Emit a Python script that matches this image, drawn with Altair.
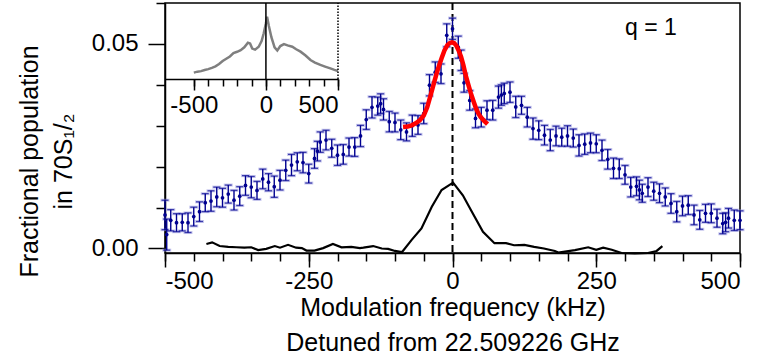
import altair as alt
import pandas as pd

# ---------------- data ----------------
freq_khz = [
    -500, -497, -490, -480, -470, -460, -450, -440, -430, -420, -410,
    -400, -390, -380, -370, -360, -350, -340, -330, -320, -310,
    -300, -290, -280, -270, -260, -250, -240, -235, -230, -220, -210,
    -200, -190, -180, -170, -160, -150, -140, -130, -125, -120, -110,
    -100, -90, -80, -70, -60, -50, -40, -30, -20, -10,
    0, 10, 15, 20, 30, 40, 50, 60, 70, 80, 85, 90,
    100, 110, 120, 130, 140, 150, 160, 170, 180, 190,
    200, 210, 220, 230, 240, 250, 260, 270, 280, 290,
    300, 310, 320, 325, 330, 340, 350, 360, 370, 380, 390,
    400, 410, 420, 430, 440, 450, 460, 470, 475, 480, 490, 500,
]
pop_milli = [
    8.2, 3.4, 6.9, 6.3, 6.4, 6.3, 7.8, 9.0, 11.2, 11.6, 12.6,
    12.4, 13.3, 11.8, 12.8, 15.4, 15.0, 14.2, 17.0, 16.2, 15.1,
    16.7, 19.1, 20.4, 21.2, 21.0, 18.3, 22.0, 23.8, 26.0, 26.5, 24.5,
    22.8, 23.0, 24.8, 24.8, 27.5, 31.5, 34.5, 34.8, 35.4, 34.0, 31.0,
    30.8, 29.0, 28.5, 30.0, 30.2, 33.0, 39.9, 43.1, 42.7, 52.1,
    53.7, 49.2, 46.0, 40.5, 36.2, 31.8, 32.1, 33.8, 33.8, 37.0, 37.5, 37.9,
    38.2, 34.6, 35.0, 32.1, 29.3, 28.9, 27.7, 26.5, 27.5, 27.2,
    27.5, 27.0, 25.2, 25.5, 25.8, 25.6, 24.0, 21.8, 19.6, 19.5,
    18.0, 15.0, 15.2, 14.3, 13.5, 15.0, 14.0, 13.5, 12.6, 11.0, 9.0,
    10.4, 10.6, 8.2, 7.0, 8.6, 8.6, 7.4, 6.1, 6.4, 7.4, 6.9, 6.9,
]
err_milli = [
    3.6, 3.8, 2.6, 2.2, 2.1, 2.4, 2.3, 2.4, 2.2, 2.5, 2.4,
    2.3, 2.2, 2.4, 2.3, 2.4, 2.6, 2.2, 2.4, 2.1, 2.6,
    2.4, 2.5, 2.6, 2.2, 2.5, 2.3, 2.4, 2.4, 2.5, 2.4, 2.2,
    2.5, 2.4, 2.2, 2.3, 2.6, 2.4, 2.6, 2.2, 2.4, 2.6, 2.5,
    2.3, 2.4, 2.2, 2.6, 2.3, 2.5, 2.6, 2.5, 2.4, 2.8,
    2.6, 2.7, 2.5, 2.3, 2.4, 2.3, 2.4, 2.3, 2.4, 2.7, 2.5, 2.5,
    2.5, 2.6, 2.2, 2.4, 2.6, 2.3, 2.4, 2.6, 2.4, 2.2,
    2.5, 2.2, 2.6, 2.5, 2.4, 2.2, 2.5, 2.4, 2.5, 2.4,
    2.3, 2.4, 2.3, 2.4, 2.2, 2.3, 2.2, 2.3, 2.2, 2.4, 2.5,
    2.4, 2.3, 2.4, 2.3, 2.2, 2.3, 2.2, 2.5, 2.3, 2.4, 2.5, 2.3,
]

fit_khz = [-86, -78, -71, -64, -57, -50, -44, -38, -31, -25, -19, -14, -9, -5, -1,
           3, 7, 11, 15, 19, 23, 28, 32, 37, 41, 45, 49, 55, 61]
fit_milli = [29.7, 29.8, 30.1, 30.6, 31.3, 32.5, 34.5, 37.5, 41.1, 44.0, 46.5, 48.4, 49.7, 50.2, 50.4,
             50.2, 49.5, 48.3, 46.8, 44.8, 42.3, 39.8, 37.9, 35.8, 34.2, 33.0, 32.1, 31.2, 30.4]

ref_khz = [-428, -418, -405, -390, -376, -362, -350, -338, -324, -309, -300, -286, -272, -262,
           -254, -240, -225, -208, -193, -176, -161, -155, -138, -123, -112, -100, -88, -71,
           -54, -36, -19, 1, 18, 32, 53, 73, 93, 107, 125, 142, 159, 178, 184, 213, 236, 250,
           262, 277, 294, 317, 340, 355, 365]
ref_milli = [1.1, 1.5, 0.6, 0.4, 0.3, 0.2, 0.3, -0.4, -0.1, 0.6, 0.2, 0.9, 0.2, 0.1,
             -0.5, -0.5, 0.1, 1.1, 0.3, 0.4, 0.1, 0.2, 0.6, 0.0, -0.1, -0.6, -0.9, 2.1,
             4.9, 10.2, 14.3, 16.1, 13.0, 9.4, 4.1, 1.3, 1.3, 0.8, 0.9, 0.4, 0.0, -0.6, -1.0,
             -0.4, 0.3, -0.3, 0.2, -0.3, -1.1, -1.2, -1.1, -0.6, 0.6]

inset_khz = [-500, -475, -450, -425, -400, -375, -350, -325, -300, -275, -250, -225, -200,
             -175, -150, -125, -110, -95, -75, -50, -30, -15, 0, 8, 20, 38, 60, 79, 100, 125,
             150, 183, 210, 240, 275, 309, 340, 378, 410, 447, 475, 500]
inset_sig = [0.0050, 0.0058, 0.0062, 0.0071, 0.0078, 0.0088, 0.0100, 0.0118, 0.0142, 0.0160,
             0.0178, 0.0205, 0.0215, 0.0228, 0.0250, 0.0287, 0.0280, 0.0240, 0.0232, 0.0255,
             0.0300, 0.0361, 0.0440, 0.0492, 0.0420, 0.0330, 0.0250, 0.0225, 0.0260, 0.0276,
             0.0265, 0.0255, 0.0235, 0.0216, 0.0185, 0.0150, 0.0130, 0.0111, 0.0098, 0.0084,
             0.0072, 0.0063]

# ---------------- tables ----------------
df = pd.DataFrame({"f": freq_khz,
                   "p": [v / 1000 for v in pop_milli],
                   "e": [v / 1000 for v in err_milli]})
df["lo"] = df["p"] - df["e"]
df["hi"] = df["p"] + df["e"]
fit_df = pd.DataFrame({"f": fit_khz, "p": [v / 1000 for v in fit_milli]})
ref_df = pd.DataFrame({"f": ref_khz, "p": [v / 1000 for v in ref_milli]})
inset_df = pd.DataFrame({"f": inset_khz, "s": inset_sig})

NAVY = "#000090"
FONT = "Liberation Sans"

xs = alt.Scale(domain=[-500, 500], nice=False, zero=False)
ys = alt.Scale(domain=[-0.0011, 0.06], nice=False, zero=False)

x_major = alt.Axis(values=[-500, -250, 0, 250, 500], tickSize=14, labelExpr="'' + datum.value",
                   labelPadding=2, orient="bottom",
                   title=["Modulation frequency (kHz)", "Detuned from 22.509226 GHz"],
                   titleLineHeight=35, titlePadding=2)
x_minor = alt.Axis(values=list(range(-500, 501, 50)), tickSize=8, labels=False, domain=False,
                   orient="bottom", title=None)
y_major = alt.Axis(values=[0, 0.05], tickSize=17, labelExpr="format(datum.value, '.2f')",
                   labelPadding=10, orient="left",
                   title=["Fractional population", "in 70S\u2081/\u2082"],
                   titleAngle=270, titleX=-136, titleY=158, titleAlign="center",
                   titleBaseline="middle", titleLineHeight=34)
y_minor = alt.Axis(values=[0.01, 0.02, 0.03, 0.04, 0.06], tickSize=9, labels=False,
                   domain=False, orient="left", title=None)

X = lambda ax=None: alt.X("f:Q", scale=xs, axis=ax)
Y = lambda fld="p", ax=None: alt.Y(f"{fld}:Q", scale=ys, axis=ax)

base = alt.Chart(df)
bars = base.mark_rule(color=NAVY, strokeWidth=1.4).encode(x=X(), y=Y("lo"), y2="hi")
caps_halo = base.transform_fold(["lo", "hi"], as_=["k", "v"]).mark_tick(
    orient="horizontal", size=9, thickness=3, color="#9a9ae0", opacity=0.55
).encode(x=X(), y=Y("v"))
caps = base.transform_fold(["lo", "hi"], as_=["k", "v"]).mark_tick(
    orient="horizontal", size=7, thickness=1.3, color=NAVY
).encode(x=X(), y=Y("v"))
points = base.mark_point(filled=True, size=14, color=NAVY, opacity=1).encode(
    x=X(x_major), y=Y("p", y_major))

ref_line = alt.Chart(ref_df).mark_line(color="black", strokeWidth=2.2).encode(
    x=X(x_minor), y=Y("p", y_minor))
fit_line = alt.Chart(fit_df).mark_line(color="#ff0000", strokeWidth=4.5).encode(x=X(), y=Y())
zero_line = alt.Chart(pd.DataFrame({"f": [0]})).mark_rule(
    color="black", strokeWidth=2, strokeDash=[7, 4]).encode(x=X())
q_text = alt.Chart(pd.DataFrame({"f": [345], "p": [0.0522], "t": ["q = 1"]})).mark_text(
    font=FONT, fontSize=23, align="center", baseline="alphabetic", color="black"
).encode(x=X(), y=Y(), text="t:N")

main = alt.layer(zero_line, ref_line, caps_halo, bars, caps, points, fit_line, q_text
                 ).resolve_axis(x="independent", y="independent")

# ---------------- inset ----------------
ixs = alt.Scale(domain=[-700, 500], range=[0, 173], nice=False, zero=False)
iys = alt.Scale(domain=[0, 0.06], range=[76, 0], nice=False, zero=False)
ix_major = alt.Axis(values=[-500, 0, 500], tickSize=11, labelExpr="'' + datum.value",
                    orient="bottom", offset=-174, title=None, labelPadding=3)
ix_minor = alt.Axis(values=list(range(-500, 501, 100)), tickSize=7, labels=False,
                    domain=False, orient="bottom", offset=-174, title=None)

inset_line = alt.Chart(inset_df).mark_line(color="#7f7f7f", strokeWidth=2.5).encode(
    x=alt.X("f:Q", scale=ixs, axis=ix_major), y=alt.Y("s:Q", scale=iys, axis=None))
inset_zero = alt.Chart(pd.DataFrame({"f": [0], "a": [0.0], "b": [0.06]})).mark_rule(
    color="black", strokeWidth=1.5).encode(
    x=alt.X("f:Q", scale=ixs, axis=ix_minor), y=alt.Y("a:Q", scale=iys, axis=None), y2="b:Q")
inset_edge = alt.Chart(pd.DataFrame({"f": [500], "a": [0.0], "b": [0.06]})).mark_rule(
    color="black", strokeWidth=1.5, strokeDash=[1.5, 1.5]).encode(
    x=alt.X("f:Q", scale=ixs, axis=None), y=alt.Y("a:Q", scale=iys, axis=None), y2="b:Q")

inset = alt.layer(inset_line, inset_zero, inset_edge).resolve_axis(x="independent")

chart = alt.layer(main, inset).resolve_scale(x="independent", y="independent").properties(
    width=575, height=250,
    padding={"left": 165, "top": 3, "right": 23, "bottom": 105},
    autosize=alt.AutoSizeParams(type="none"),
    background="white",
).configure_view(stroke="black", strokeWidth=1.5).configure_axis(
    grid=False, labelFont=FONT, titleFont=FONT, labelFontSize=24, titleFontSize=25,
    titleFontWeight="normal", labelColor="black", titleColor="black",
    domainColor="black", tickColor="black", domainWidth=1.5, tickWidth=1.5,
)

chart.save("out.html", embed_options={"renderer": "svg", "actions": False})
